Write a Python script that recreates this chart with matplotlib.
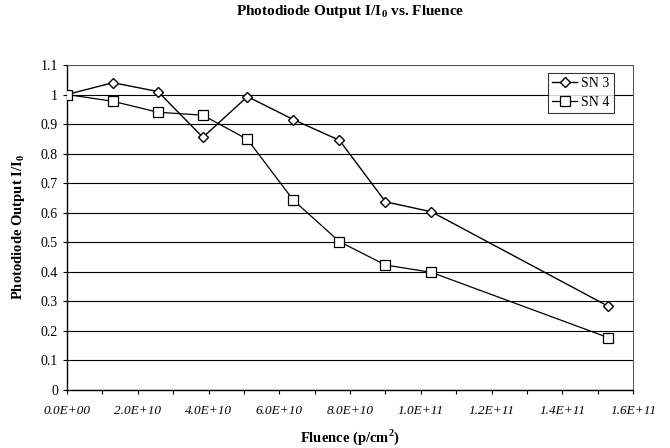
import matplotlib
matplotlib.use("Agg")
import matplotlib.pyplot as plt

# Data
fluence = [0.0, 1.3e10, 2.57e10, 3.84e10, 5.1e10, 6.4e10, 7.7e10, 9.0e10, 1.03e11, 1.53e11]
sn3 = [1.0, 1.04, 1.01, 0.855, 0.993, 0.915, 0.845, 0.637, 0.603, 0.283]
sn4 = [1.0, 0.977, 0.94, 0.93, 0.848, 0.642, 0.502, 0.423, 0.398, 0.177]

x_ticks = [0, 2e10, 4e10, 6e10, 8e10, 1e11, 1.2e11, 1.4e11, 1.6e11]
x_labels = ["0.0E+00", "2.0E+10", "4.0E+10", "6.0E+10", "8.0E+10",
            "1.0E+11", "1.2E+11", "1.4E+11", "1.6E+11"]
y_ticks = [0, 0.1, 0.2, 0.3, 0.4, 0.5, 0.6, 0.7, 0.8, 0.9, 1.0, 1.1]
y_labels = ["0", "0.1", "0.2", "0.3", "0.4", "0.5", "0.6", "0.7", "0.8", "0.9", "1", "1.1"]

plt.rcParams["font.family"] = ["Liberation Serif", "DejaVu Serif"]
plt.rcParams["mathtext.fontset"] = "custom"
plt.rcParams["mathtext.rm"] = "Liberation Serif"
plt.rcParams["mathtext.bf"] = "Liberation Serif:bold"

fig = plt.figure(figsize=(6.7, 4.48), dpi=100)
ax = fig.add_axes([0.1, 0.1295, 0.845, 0.7255])

ax.plot(fluence, sn3, color="black", lw=1.0, marker="D", ms=5.5,
        mfc="white", mec="black", mew=1.0, label="SN 3", zorder=3)
ax.plot(fluence, sn4, color="black", lw=0.9, marker="s", ms=6.5,
        mfc="white", mec="black", mew=0.9, label="SN 4", zorder=3)

ax.set_xlim(0, 1.6e11)
ax.set_ylim(0, 1.1)
ax.set_xticks(x_ticks)
ax.set_xticklabels(x_labels, fontsize=9.5, style="italic")
ax.set_xticks([1e10 * k for k in range(1, 16, 2)], minor=True)
ax.set_yticks(y_ticks)
ax.set_yticklabels(y_labels, fontsize=10)
ax.tick_params(axis="both", which="both", direction="out", length=3, width=0.8)
ax.tick_params(axis="x", pad=8)

ax.yaxis.grid(True, color="black", lw=0.8)
ax.set_axisbelow(True)
for side in ("top", "right"):
    ax.spines[side].set_color("#555555")
    ax.spines[side].set_linewidth(0.7)
    ax.spines[side].set_linestyle((0, (6, 1)))
for side in ("left", "bottom"):
    ax.spines[side].set_color("black")
    ax.spines[side].set_linewidth(1.0)

ax.set_title(r"Photodiode Output I/I$_\mathbf{0}$ vs. Fluence",
             fontsize=11, fontweight="bold", pad=36)
ax.set_xlabel(r"Fluence (p/cm$^\mathbf{2}$)", fontsize=10.5, fontweight="bold", labelpad=7)
ax.set_ylabel(r"Photodiode Output I/I$_\mathbf{0}$", fontsize=10.5, fontweight="bold", labelpad=10)

leg = ax.legend(loc="upper right", bbox_to_anchor=(0.966, 0.975), fontsize=10,
                frameon=True, fancybox=False, edgecolor="black", handlelength=1.8,
                handletextpad=0.3, borderpad=0.3, labelspacing=0.4, borderaxespad=0)
leg.get_frame().set_linewidth(0.8)

fig.savefig("out.png", dpi=100)
